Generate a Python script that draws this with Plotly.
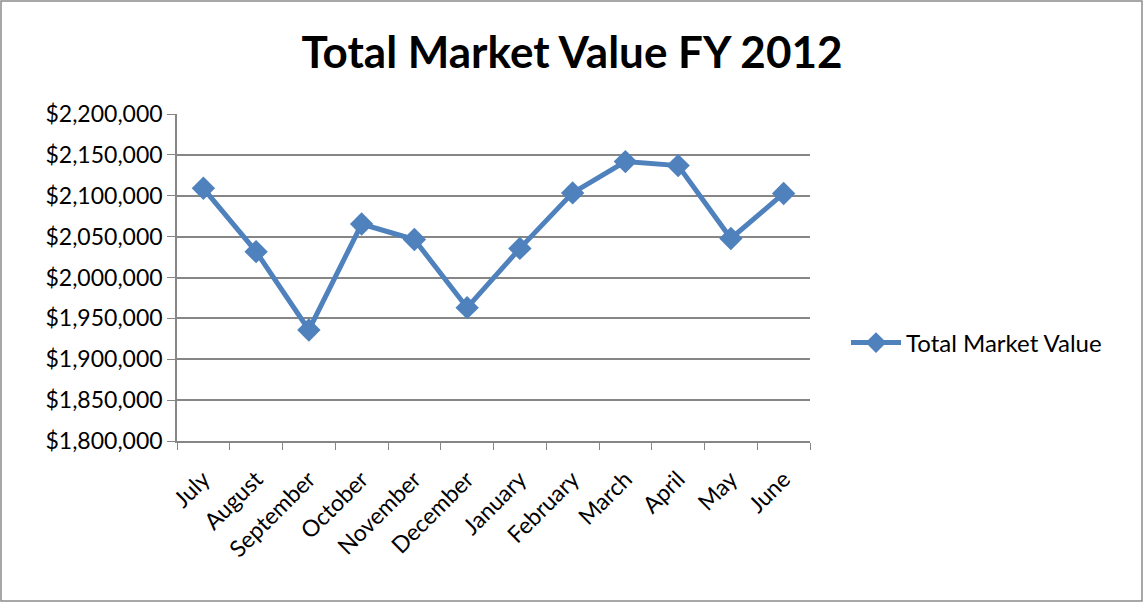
import plotly.graph_objects as go

months = ["July", "August", "September", "October", "November", "December",
          "January", "February", "March", "April", "May", "June"]
market_value = [2109100, 2031600, 1935800, 2065400, 2046500, 1963100,
                2035600, 2103500, 2141800, 2136900, 2047700, 2102800]

W, H = 1144, 603
L, R, T, B = 177, 334, 114, 162
pw, ph = W - L - R, H - T - B

fig = go.Figure()
fig.add_trace(go.Scatter(
    x=months, y=market_value, name="Total Market Value",
    mode="lines+markers",
    line=dict(color="#4F81BD", width=5),
    marker=dict(symbol="diamond", size=18, color="#4F81BD"),
))

# outer chart border
fig.add_shape(type="rect", xref="paper", yref="paper",
              x0=(1 - L) / pw, x1=(W - 2 - L) / pw,
              y0=-(H - 2 - T - ph) / ph, y1=1 + (T - 1) / ph,
              line=dict(color="#8c8c8c", width=1.5))

fig.update_layout(
    width=W, height=H,
    margin=dict(l=L, r=R, t=T, b=B),
    paper_bgcolor="white", plot_bgcolor="white",
    font=dict(family="Lato, Open Sans, sans-serif", size=22, color="black"),
    title=dict(text="<b>Total Market Value FY 2012</b>", x=0.5, xref="container",
               xanchor="center", y=1 - 53 / H, yanchor="middle",
               font=dict(size=44)),
    showlegend=True,
    legend=dict(x=(846 - L) / pw, y=(H - 343 - B) / ph, xanchor="left",
                yanchor="middle", font=dict(size=24), itemwidth=50),
    xaxis=dict(
        type="category", tickson="boundaries", ticks="outside", ticklen=7,
        tickcolor="#868686", showline=True, linecolor="#868686", linewidth=1.5,
        showgrid=False, tickangle=-45, tickfont=dict(size=23),
        ticklabelstandoff=14, range=[-0.5, 11.5],
    ),
    yaxis=dict(
        range=[1800000, 2200000], dtick=50000, tickformat="$,.0f",
        ticks="outside", ticklen=8, tickcolor="#868686",
        showline=True, linecolor="#868686", linewidth=1.5,
        showgrid=True, gridcolor="#868686", gridwidth=1.5,
        zeroline=False, tickfont=dict(size=23),
    ),
)

fig.write_html("out.html", config={"displayModeBar": False},
               post_script="document.body.style.margin='0';")
